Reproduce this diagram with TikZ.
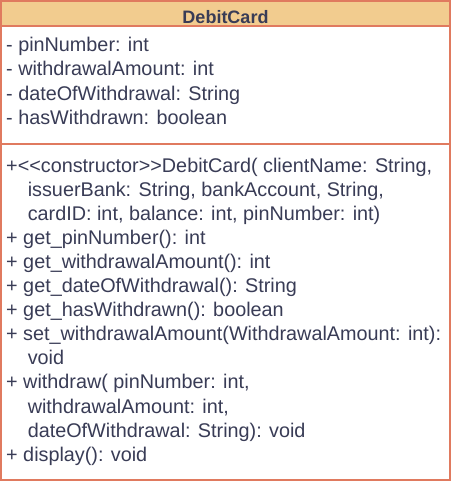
\documentclass[tikz,border=0pt]{standalone}
\usepackage{fontspec}
\newfontfamily\umlfont{Liberation Sans}
\definecolor{umlline}{HTML}{E07A5F}
\definecolor{umlhead}{HTML}{F2CC8F}
\definecolor{umltext}{HTML}{393C56}
\begin{document}
\begin{tikzpicture}[x=1pt,y=-1pt,
  txt/.style={anchor=base west, inner sep=0pt, font=\umlfont\fontsize{19.8}{23}\selectfont, text=umltext},
  title/.style={anchor=base, inner sep=0pt, font=\umlfont\bfseries\fontsize{18}{22}\selectfont, text=umltext},
  border/.style={draw=umlline, line width=1.3pt}]
\useasboundingbox (0,0) rectangle (451,484);
\fill[white] (0,0) rectangle (451,484);
\draw[border, fill=white] (1,1) rectangle (450,480);
\draw[border, fill=umlhead] (1,1) rectangle (450,26);
\draw[border] (1,144) -- (450,144);
\node[title] (name) at (225.5,24) {DebitCard};
% attributes
\node[txt] (a1) at (6,51.7) {- pinNumber: int};
\node[txt] (a2) at (6,75.9) {- withdrawalAmount: int};
\node[txt] (a3) at (6,100.1) {- dateOfWithdrawal: String};
\node[txt] (a4) at (6,124.3) {- hasWithdrawn: boolean};
% methods
\node[txt] (m1) at (6,172) {+<\kern0pt<constructor>\kern0pt>DebitCard( clientName: String,};
\node[txt] (m2) at (27.6,196.1) {issuerBank: String, bankAccount, String,};
\node[txt] (m3) at (27.6,220.2) {cardID: int, balance: int, pinNumber: int)};
\node[txt] (m4) at (6,244.3) {+ get\_pinNumber(): int};
\node[txt] (m5) at (6,268.4) {+ get\_withdrawalAmount(): int};
\node[txt] (m6) at (6,292.5) {+ get\_dateOfWithdrawal(): String};
\node[txt] (m7) at (6,316.6) {+ get\_hasWithdrawn(): boolean};
\node[txt] (m8) at (6,340.7) {+ set\_withdrawalAmount(WithdrawalAmount: int):};
\node[txt] (m9) at (27.6,364.8) {void};
\node[txt] (m10) at (6,388.9) {+ withdraw( pinNumber: int,};
\node[txt] (m11) at (27.6,413.0) {withdrawalAmount: int,};
\node[txt] (m12) at (27.6,437.1) {dateOfWithdrawal: String): void};
\node[txt] (m13) at (6,461.2) {+ display(): void};
\end{tikzpicture}
\end{document}
